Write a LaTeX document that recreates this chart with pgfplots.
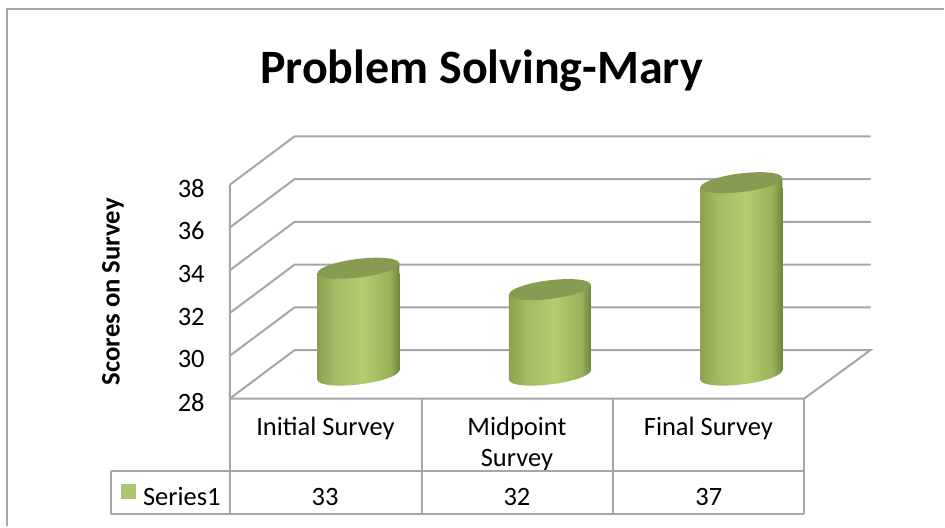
\documentclass[border=0pt]{standalone}
\usepackage{fontspec}
\setmainfont{Carlito}
\usepackage{pgfplots}
\pgfplotsset{compat=1.18}
\definecolor{gridg}{RGB}{166,166,166}
\definecolor{capg}{RGB}{135,156,82}
\definecolor{keyg}{RGB}{173,199,110}
\pgfdeclarehorizontalshading{cyl}{100bp}{
  rgb(0bp)=(0.55,0.635,0.32);
  rgb(25bp)=(0.55,0.635,0.32);
  rgb(35bp)=(0.63,0.73,0.38);
  rgb(52.5bp)=(0.70,0.805,0.44);
  rgb(69bp)=(0.60,0.695,0.345);
  rgb(75bp)=(0.435,0.525,0.26);
  rgb(100bp)=(0.435,0.525,0.26)}
\pgfdeclareplotmark{cyltop}{%
  \path[draw=none,shading=cyl] (-41pt,0pt) -- (41pt,10pt) -- (41pt,-6pt) -- (-41pt,-6pt) -- cycle;
  \path[draw=none,fill=capg] (0pt,5pt) ellipse [x radius=41.2pt, y radius=9.3pt, rotate=7];
}
\pgfdeclareplotmark{cylbase}{%
  \path[draw=none,shading=cyl] (-41pt,-10pt) -- (41pt,0pt) -- (41pt,6pt) -- (-41pt,6pt) -- cycle;
  \path[draw=none,shading=cyl] (0pt,-5pt) ellipse [x radius=41.2pt, y radius=9.3pt, rotate=7];
}
\newcommand{\lab}{\fontsize{26.5}{31}\selectfont}
\begin{document}
\begin{tikzpicture}[x=1pt,y=1pt]
\path (0,0) rectangle (945,527);
% chart frame
\draw[gridg,line width=2pt] (7.5,0) -- (7.5,517.5) -- (945,517.5);
% front plane: walls, floor, gridlines
\begin{axis}[
  at={(230pt,128pt)},anchor=south west,scale only axis,
  width=575pt,height=214pt,
  xmin=0,xmax=3,ymin=28,ymax=38,
  clip=false,
  axis line style={draw=none},
  ytick={28,30,32,34,36,38},
  xtick={0.5,1.5,2.5},
  xticklabels={Initial Survey,{Midpoint\\Survey},Final Survey},
  major tick length=0pt,
  tick style={draw=none},
  /pgf/number format/assume math mode=true,
  yticklabel style={font=\lab,anchor=east,inner sep=0pt,xshift=-25pt,yshift=-3.5pt},
  xticklabel style={font=\lab,align=center,anchor=north,inner sep=0pt,yshift=-18.5pt},
]
\addplot[gridg,line width=2pt] coordinates {(0,38)(0.339,40.27)(3.347,40.27)};
\addplot[gridg,line width=2pt] coordinates {(0,36)(0.339,38.27)(3.347,38.27)};
\addplot[gridg,line width=2pt] coordinates {(0,34)(0.339,36.27)(3.347,36.27)};
\addplot[gridg,line width=2pt] coordinates {(0,32)(0.339,34.27)(3.347,34.27)};
\addplot[gridg,line width=2pt] coordinates {(0,30)(0.339,32.27)(3.347,32.27)};
\addplot[gridg,line width=2pt] coordinates {(0,28)(0.339,30.27)(3.347,30.27)(3,28)(0,28)(0,38)};
\end{axis}
% the cylinders, standing half way back in the depth of the chart
\begin{axis}[
  at={(263pt,156.5pt)},anchor=south west,scale only axis,
  width=575pt,height=214pt,
  xmin=0,xmax=3,ymin=28.467,ymax=38.467,
  clip=false,hide axis,
]
\addplot[only marks,mark=cylbase] coordinates {(0.5,28.467)(1.5,28.467)(2.5,28.467)};
\addplot[ybar,bar width=82pt,bar shift=0pt,draw=none,shading=cyl] coordinates {(0.5,33)};
\addplot[ybar,bar width=82pt,bar shift=0pt,draw=none,shading=cyl] coordinates {(1.5,32)};
\addplot[ybar,bar width=82pt,bar shift=0pt,draw=none,shading=cyl] coordinates {(2.5,37)};
\addplot[only marks,mark=cyltop] coordinates {(0.5,33)(1.5,32)(2.5,37)};
\end{axis}
% data table
\draw[gridg,line width=2pt] (111,56) -- (805,56);
\draw[gridg,line width=2pt] (111,12) -- (805,12);
\draw[gridg,line width=2pt] (111,12) -- (111,56);
\draw[gridg,line width=2pt] (230,12) -- (230,128);
\draw[gridg,line width=2pt] (422,12) -- (422,128);
\draw[gridg,line width=2pt] (614,12) -- (614,128);
\draw[gridg,line width=2pt] (805,12) -- (805,128);
\fill[keyg] (121,27) rectangle (136,42);
\node[anchor=west,inner sep=0pt,font=\lab] at (143,29.5) {Series1};
\node[font=\lab,inner sep=0pt] at (325.5,29.5) {33};
\node[font=\lab,inner sep=0pt] at (517.5,29.5) {32};
\node[font=\lab,inner sep=0pt] at (709.5,29.5) {37};
% titles
\node[font=\fontsize{48}{52}\selectfont\bfseries,inner sep=0pt] at (482,456) {Problem Solving-Mary};
\node[font=\fontsize{26.7}{30}\selectfont\bfseries,inner sep=0pt,rotate=90] at (113,235) {Scores on Survey};
\end{tikzpicture}
\end{document}
